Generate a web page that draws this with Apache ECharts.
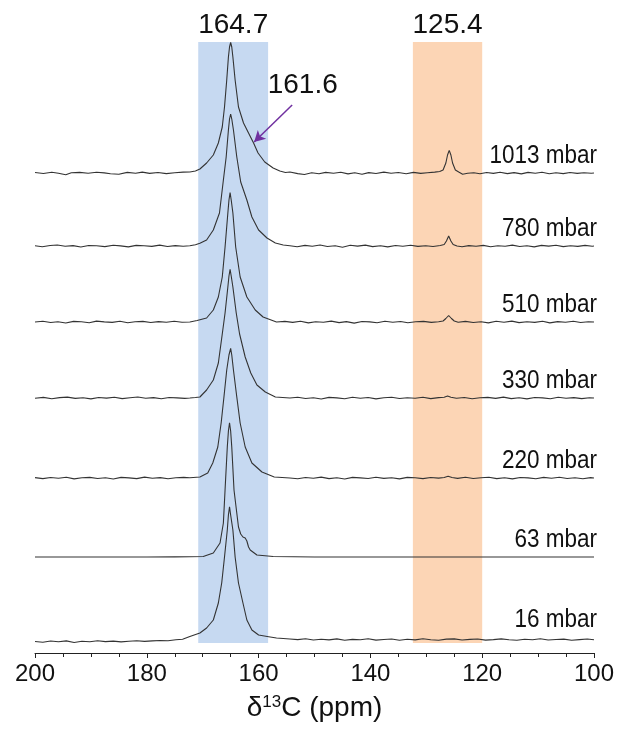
<!DOCTYPE html>
<html><head><meta charset="utf-8">
<script src="https://cdn.jsdelivr.net/npm/echarts@6/dist/echarts.min.js"></script>
<style>html,body{margin:0;padding:0;background:#fff}#c{width:627px;height:729px}</style>
</head><body><div id="c"></div>
<script>
// ---- data (x = ppm, y = intensity relative to each baseline) ----
const names = ['16 mbar','63 mbar','220 mbar','330 mbar','510 mbar','780 mbar','1013 mbar'];
const offsets = [16, 96, 175, 255, 331, 407, 480];
const bandBlue = [170.8, 158.3];
const bandOrange = [132.4, 120.0];
const bandLabels = ['164.7', '125.4'];
const shoulderLabel = '161.6';
const xTicks = [200, 180, 160, 140, 120, 100];

const s1013 = [[200,0.5],[198.5,-0.5],[197,0.8],[195.8,-0.3],[194.5,-1.8],[193.5,0.2],[192,0.6],[190.5,-0.2],[189,0.7],[187.6,0.1],[186.5,-0.8],[185,-1.2],[183.5,0.6],[182,-0.3],[180.8,0.9],[179.5,-0.4],[178,0.5],[176.5,-0.6],[175,0.3],[173.5,0.9],[172.3,1],
[171.3,2],[170.5,4],[169.3,10],[168.1,18],[167.2,30],[166.5,46],[166.1,66],[165.7,93],[165.4,116],[165.2,126],[165.0,130.5],[164.8,126],[164.6,116],[164.2,93],[163.6,66],[162.7,50],[161.8,40],[160.9,30],[160.1,20],[158.9,11],[157.4,5],[156.2,2],[155.2,0.5],[154.4,1],
[153,-0.6],[151.8,-1.5],[150.5,0.3],[149.2,-0.8],[148,0.6],[146.6,-0.3],[145.3,0.8],[144,-0.9],[142.8,0.2],[141.5,-1.2],[140.3,0.4],[139,-0.5],[137.6,0.9],[136.3,-0.2],[135,0.5],[133.6,-0.7],[132.3,0.6],[131,-0.4],[129.8,0.3],[128.5,0.9],[127.6,1.5],[127,3],[126.5,10],[126.2,18],[125.9,22.6],[125.6,18],[125.3,10],[124.8,3],[124.2,1],[123.5,-1.2],[122.6,-0.2],[121.5,0.3],[120.4,-0.8],[119.2,0.5],[118,-0.4],[116.8,0.8],[115.5,-0.6],[114.3,0.4],[113,-0.9],[111.8,0.6],[110.5,-0.3],[109.3,0.7],[108,-0.8],[106.8,0.2],[105.5,-0.6],[104.3,0.5],[103,-0.4],[101.8,0.3],[100.5,-0.2],[100,0]];

const s780 = [[200,0.3],[198.7,-0.8],[197.3,0.5],[196,1],[194.6,-0.2],[193.2,0.4],[191.8,-1],[190.4,0.5],[189,0.2],[187.5,-0.6],[186,0.8],[184.7,0.1],[183.3,-0.9],[181.9,0.6],[180.5,0.2],[179.1,-0.4],[177.7,0.9],[176.3,-0.5],[174.9,0.4],[173.5,-0.2],[172.3,0.3],
[171.3,1.2],[170.5,2.7],[169.3,6],[168.1,16],[167,33],[166.3,66],[165.8,89],[165.4,116],[165.2,127],[165.0,132],[164.8,127],[164.5,116],[163.9,89],[163.2,64],[162.1,46],[161.2,29],[160,16],[158.5,8],[157,3],[155.6,1],[154.4,0.3],
[153.1,-0.8],[151.7,0.6],[150.4,-0.3],[149,1],[147.7,-0.5],[146.3,0.2],[145,-1.2],[143.6,0.7],[142.3,-0.1],[140.9,0.9],[139.6,-0.6],[138.2,0.3],[136.9,-0.9],[135.5,0.5],[134.2,-0.2],[132.8,0.8],[131.5,-0.4],[130.1,0.2],[128.8,-0.5],[127.5,0.5],[126.8,1.5],[126.4,5],[126.0,10],[125.6,5],[125.2,1.5],[124.5,0],[123.6,-0.7],[122.4,0.4],[121.1,-0.3],[119.8,0.6],[118.5,-0.8],[117.2,0.3],[115.9,-0.2],[114.6,0.9],[113.3,-0.5],[112,0.2],[110.7,-0.9],[109.4,0.6],[108.1,-0.1],[106.8,0.8],[105.5,-0.6],[104.2,0.3],[102.9,-0.4],[101.6,0.6],[100.3,-0.2],[100,0]];

const s510 = [[200,0],[198.6,0.8],[197.2,-0.5],[195.9,0.3],[194.5,-1],[193.1,0.6],[191.7,0.2],[190.3,-0.7],[189,0.9],[187.6,0.1],[186.2,-0.4],[184.8,0.7],[183.4,-0.8],[182.1,0.3],[180.7,0.6],[179.3,-0.5],[177.9,0.4],[176.5,-0.2],[175.1,0.8],[173.7,-0.3],[172.3,0],
[171,1.5],[169.3,4],[168.1,12],[167.2,25],[166.5,45],[166,75],[165.5,109],[165.3,122],[165.1,129.3],[164.9,122],[164.6,109],[164.1,75],[163.3,45],[162.1,25],[160.6,12],[159.2,5],[156.8,0],
[155.3,0.6],[153.9,-0.4],[152.5,0.8],[151.1,-0.9],[149.8,0.3],[148.4,-0.2],[147,0.9],[145.6,-0.6],[144.3,0.4],[142.9,-1.1],[141.5,0.5],[140.1,0.1],[138.8,-0.7],[137.4,0.8],[136,-0.3],[134.6,0.5],[133.3,-0.8],[131.9,0.2],[130.5,0.6],[129.1,-0.4],[127.8,0.3],[127,1],[126.5,3.5],[126.0,6.5],[125.5,3.5],[125,1],[124.3,-0.2],[123,0.6],[121.6,-0.5],[120.2,0.2],[118.9,-0.9],[117.5,0.7],[116.1,-0.2],[114.7,0.9],[113.4,-0.6],[112,0.3],[110.6,-0.4],[109.2,0.8],[107.9,-0.9],[106.5,0.4],[105.1,-0.3],[103.7,0.7],[102.4,-0.5],[101,0.2],[100,0]];

const s330 = [[200,-0.3],[198.5,0.6],[197,-0.7],[195.6,0.4],[194.2,0.9],[192.8,-0.4],[191.4,0.2],[190,-0.9],[188.6,0.5],[187.2,-0.1],[185.8,0.7],[184.4,-0.6],[183,0.3],[181.6,1],[180.2,-0.3],[178.8,0.4],[177.4,-0.8],[176,0.5],[174.6,0.1],[173.2,-0.4],[172.3,0],
[171.3,0.5],[170.5,1],[169.3,8],[168.1,18],[167.2,35],[166.5,64],[166.0,85],[165.5,111],[165.3,122],[165.1,128.7],[164.9,122],[164.6,111],[164.0,85],[163.4,64],[162.4,41],[161.4,25],[160.3,13],[158.8,6],[157,1],[154.4,0],
[153,0.7],[151.6,-0.5],[150.2,0.3],[148.8,-1],[147.4,0.6],[146,0.1],[144.6,-0.7],[143.2,0.8],[141.8,-0.3],[140.4,0.5],[139,-0.9],[137.6,0.2],[136.2,0.7],[134.8,-0.5],[133.4,0.3],[132,-0.2],[130.6,0.8],[129.2,-0.6],[127.8,0.4],[126.8,0.8],[126.2,2],[125.6,0.8],[124.6,-0.3],[123.2,0.5],[121.8,-0.8],[120.4,0.3],[119,0.6],[117.6,-0.4],[116.2,0.9],[114.8,-0.6],[113.4,0.2],[112,-0.9],[110.6,0.5],[109.2,0.1],[107.8,-0.7],[106.4,0.8],[105,-0.3],[103.6,0.4],[102.2,-0.6],[100.8,0.3],[100,0]];

const s220 = [[200,0.4],[198.6,-0.6],[197.2,0.5],[195.8,-0.2],[194.4,0.8],[193,-0.9],[191.6,0.3],[190.2,0.6],[188.8,-0.5],[187.4,0.2],[186,-1],[184.6,0.6],[183.2,0.1],[181.8,-0.6],[180.4,0.9],[179,-0.3],[177.6,0.4],[176.2,-0.7],[174.8,0.3],[173.4,0.6],[172.3,0.2],
[170.5,1],[169.1,5],[168.2,15],[167.3,31],[166.7,55],[166.2,81],[165.7,108],[165.3,123],[165.0,129.7],[164.8,123],[164.5,108],[163.9,81],[163.3,55],[162.4,31],[161.2,15],[159.4,6],[157.2,1],[154.4,0],
[153,-0.8],[151.6,0.5],[150.2,-0.2],[148.8,0.9],[147.4,-0.6],[146,0.3],[144.6,-1],[143.2,0.6],[141.8,0.1],[140.4,-0.5],[139,0.8],[137.6,-0.4],[136.2,0.3],[134.8,-0.9],[133.4,0.6],[132,0.2],[130.6,-0.6],[129.2,0.5],[127.8,-0.1],[126.8,0.5],[126.1,1.8],[125.4,0.5],[124.4,-0.4],[123,0.7],[121.6,-0.5],[120.2,0.2],[118.8,0.8],[117.4,-0.6],[116,0.3],[114.6,-0.9],[113.2,0.5],[111.8,0.1],[110.4,-0.7],[109,0.6],[107.6,-0.3],[106.2,0.8],[104.8,-0.5],[103.4,0.2],[102,-0.7],[100.6,0.4],[100,0]];

const s63 = [[200,0],[190,0],[180,0],[175,0.1],[172.3,0.2],[169.9,0.5],[168.1,4],[166.9,14],[166.3,34],[166.0,67],[165.6,110],[165.4,126],[165.2,134.3],[165.0,126],[164.8,110],[164.4,67],[163.6,30],[163.2,23],[162.8,20],[162.4,19],[162.1,16],[161.8,10],[161.5,7],[160.3,2],[157.4,0.5],[150,0],[140,0],[130,0],[120,0],[110,0],[100,0]];

const s16 = [[200,-4.5],[198.6,-5.2],[197.2,-4],[195.8,-4.8],[194.4,-3.9],[193,-5.5],[191.6,-4.3],[190.2,-4.7],[188.8,-3.8],[187.4,-4.6],[186,-4.1],[184.6,-4.9],[183.2,-4.2],[181.8,-3.7],[180.4,-4.4],[179,-3.9],[177.6,-3.5],[176.2,-3.8],[174.8,-2.7],[173.6,-2.2],[172.3,0.5],
[170.5,4],[169.3,9],[168.1,17],[167.2,34],[166.6,54],[166.1,80],[165.6,107],[165.4,122],[165.2,130.3],[165.0,122],[164.6,107],[164.2,80],[163.6,54],[162.8,34],[162.1,17],[161.2,7],[160,2],[158.2,0.3],[156.8,-1],[154.4,-2],
[153,-2.6],[151.6,-1.8],[150.2,-3],[148.8,-2.2],[147.4,-2.9],[146,-1.9],[144.6,-3.3],[143.2,-2.4],[141.8,-2.8],[140.4,-1.7],[139,-3.1],[137.6,-2.5],[136.2,-2],[134.8,-3.2],[133.4,-2.3],[132,-2.9],[130.6,-1.8],[129.2,-2.7],[127.8,-3.3],[126.4,-2.1],[125,-1.9],[123.6,-3],[122.2,-2.4],[120.8,-2],[119.4,-3.1],[118,-2.6],[116.6,-1.9],[115.2,-2.8],[113.8,-3.2],[112.4,-2.2],[111,-2.7],[109.6,-1.8],[108.2,-3],[106.8,-2.5],[105.4,-2.1],[104,-3.2],[102.6,-2.6],[101.2,-2],[100,-2.8]];

const spectra = [s16, s63, s220, s330, s510, s780, s1013];

// ---- chart ----
const FONT = '"Liberation Sans", Arial, sans-serif';
const Y_MAX = 611, BAND_BOTTOM = 10;
const chart = echarts.init(document.getElementById('c'), null, {renderer: 'canvas'});

const bandSeries = {
  type: 'line', data: [], silent: true, z: 1,
  markArea: {
    silent: true,
    label: {show: true, position: 'top', distance: 3, color: '#111', fontSize: 28, fontFamily: FONT},
    data: [
      [{xAxis: bandBlue[0], yAxis: BAND_BOTTOM, name: bandLabels[0], itemStyle: {color: '#c6d9f1'}}, {xAxis: bandBlue[1], yAxis: Y_MAX}],
      [{xAxis: bandOrange[0], yAxis: BAND_BOTTOM, name: bandLabels[1], itemStyle: {color: '#fcd5b5'}}, {xAxis: bandOrange[1], yAxis: Y_MAX}]
    ]
  }
};

const lineSeries = spectra.map((s, i) => ({
  type: 'line', name: names[i], z: 3, silent: true,
  symbol: 'none', showSymbol: false, smooth: false,
  lineStyle: {color: '#333', width: 1.1},
  data: s.map(p => [p[0], p[1] + offsets[i]])
}));

// arrow on top spectrum
lineSeries[6].markLine = {
  silent: true, symbol: ['none', 'arrow'], symbolSize: [9, 11],
  lineStyle: {color: '#7030a0', width: 1.5, type: 'solid'},
  label: {show: false},
  data: [[{coord: [154.0, 548]}, {coord: [160.8, 511]}]]
};

chart.setOption({
  animation: false,
  backgroundColor: '#fff',
  grid: {left: 35, right: 33, top: 42, bottom: 76, containLabel: false, outerBoundsMode: 'none'},
  xAxis: {
    type: 'value', min: 100, max: 200, interval: 20, inverse: true,
    axisLine: {show: true, lineStyle: {color: '#222', width: 1}},
    axisTick: {show: true, length: 5, lineStyle: {color: '#222'}},
    minorTick: {show: true, splitNumber: 4, length: 4, lineStyle: {color: '#222'}},
    splitLine: {show: false},
    axisLabel: {color: '#111', fontSize: 24, fontFamily: FONT, margin: 9,
      formatter: v => xTicks.includes(v) ? String(v) : ''},
    name: '{d|δ}{s|13}{d|C (ppm)}', nameLocation: 'middle', nameGap: 41,
    nameTextStyle: {rich: {
      d: {fontSize: 28, color: '#111', fontFamily: FONT},
      s: {fontSize: 17, color: '#111', fontFamily: FONT, verticalAlign: 'bottom', padding: [0, 0, 11, 0]}
    }}
  },
  yAxis: {type: 'value', min: 0, max: Y_MAX, show: false},
  series: [bandSeries].concat(lineSeries)
});

// labels next to each spectrum and the shoulder annotation
const g = [];
offsets.forEach((o, i) => {
  const p = chart.convertToPixel({gridIndex: 0}, [100, o + 17]);
  g.push({type: 'text', x: p[0] + 3, y: p[1], scaleY: 1.15, silent: true,
    style: {text: names[i], fill: '#111', font: '22.5px ' + FONT, textAlign: 'right', textVerticalAlign: 'middle'}});
});
const sp = chart.convertToPixel({gridIndex: 0}, [152.1, 568]);
g.push({type: 'text', x: sp[0], y: sp[1], silent: true,
  style: {text: shoulderLabel, fill: '#111', font: '28px ' + FONT, textAlign: 'center', textVerticalAlign: 'middle'}});
chart.setOption({graphic: g});
</script>
</body></html>
